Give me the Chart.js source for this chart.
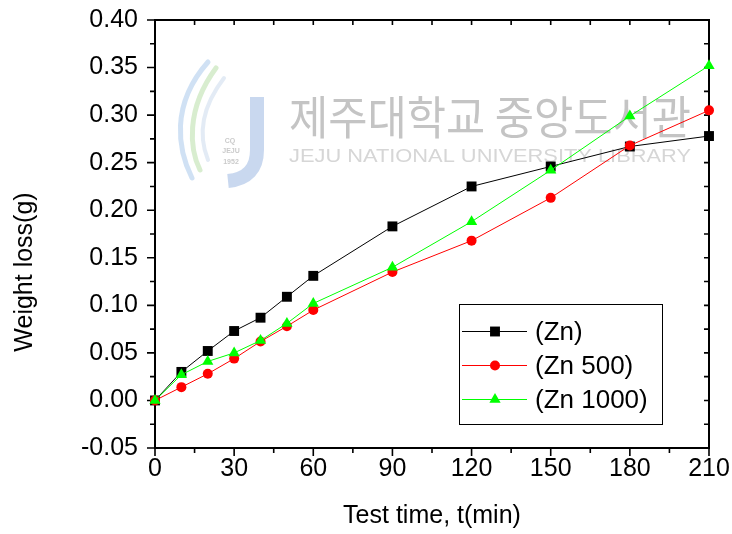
<!DOCTYPE html>
<html>
<head>
<meta charset="utf-8">
<script src="https://cdn.jsdelivr.net/npm/chart.js@4.4.1/dist/chart.umd.min.js"></script>
<style>
  html, body { margin: 0; padding: 0; background: #fff; }
  canvas { display: block; }
</style>
</head>
<body>
<canvas id="lossChart" width="732" height="534"></canvas>
<script>
// Test time (min)
const times = [0, 10, 20, 30, 40, 50, 60, 90, 120, 150, 180, 210];
// Weight loss (g)
const lossZn = [0, 0.030, 0.052, 0.073, 0.087, 0.109, 0.131, 0.183, 0.225, 0.246, 0.267, 0.278];
const lossZn500 = [0, 0.014, 0.028, 0.044, 0.062, 0.078, 0.095, 0.135, 0.168, 0.213, 0.268, 0.305];
const lossZn1000 = [0, 0.027, 0.041, 0.050, 0.063, 0.081, 0.102, 0.140, 0.188, 0.242, 0.299, 0.352];
const seriesNames = ['(Zn)', '(Zn 500)', '(Zn 1000)'];
const xTicks = [0, 30, 60, 90, 120, 150, 180, 210];
const yTicks = [-0.05, 0, 0.05, 0.10, 0.15, 0.20, 0.25, 0.30, 0.35, 0.40];
const yTitle = 'Weight loss(g)';

const FONT = '"Liberation Sans", Arial, sans-serif';
const FONT_SIZE = 25;

function toPoints(values) {
    return times.map((t, i) => ({ x: t, y: values[i] }));
}

function series(label, values, color, style, radius, order) {
    return {
        label: label,
        data: toPoints(values),
        borderColor: color,
        backgroundColor: color,
        borderWidth: 1,
        tension: 0,
        pointStyle: style,
        pointRadius: radius,
        pointHoverRadius: radius,
        pointBorderWidth: 0,
        clip: false,
        order: order
    };
}

// library watermark behind the plot
function drawWatermark(ctx) {
    ctx.save();
    ctx.filter = 'blur(0.6px)';
    ctx.lineCap = 'round';

    // swirl strokes of the logo
    const swirls = [
        ['rgba(170,200,235,0.55)', 5, [208, 62, 170, 105, 178, 150, 192, 178]],
        ['rgba(190,225,175,0.6)', 5, [216, 68, 185, 110, 190, 150, 200, 170]],
        ['rgba(200,215,235,0.5)', 4, [224, 78, 198, 112, 200, 140, 208, 160]]
    ];
    swirls.forEach(([color, w, p]) => {
        ctx.strokeStyle = color;
        ctx.lineWidth = w;
        ctx.beginPath();
        ctx.moveTo(p[0], p[1]);
        ctx.bezierCurveTo(p[2], p[3], p[4], p[5], p[6], p[7]);
        ctx.stroke();
    });

    // the "J"
    ctx.strokeStyle = 'rgba(165,190,228,0.6)';
    ctx.lineWidth = 14;
    ctx.lineCap = 'butt';
    ctx.beginPath();
    ctx.moveTo(257, 97);
    ctx.lineTo(257, 150);
    ctx.quadraticCurveTo(257, 178, 228, 181);
    ctx.stroke();

    ctx.fillStyle = 'rgba(150,150,150,0.5)';
    ctx.font = 'bold 7px ' + FONT;
    ctx.textAlign = 'center';
    ctx.textBaseline = 'middle';
    ctx.fillText('CQ', 230, 141);
    ctx.fillText('JEJU', 231, 151);
    ctx.fillText('1952', 231, 162);

    // Korean name, stretched to its span
    const kor = '제주대학교 중앙도서관';
    ctx.font = '46px "Noto Sans CJK KR"';
    ctx.textAlign = 'left';
    ctx.fillStyle = '#c4c4c4';
    let w = ctx.measureText(kor).width;
    ctx.save();
    ctx.translate(289, 117);
    ctx.scale(402 / w, 1);
    ctx.fillText(kor, 0, 0);
    ctx.restore();

    const eng = 'JEJU NATIONAL UNIVERSITY LIBRARY';
    ctx.font = '19px ' + FONT;
    ctx.fillStyle = '#d6d6d6';
    w = ctx.measureText(eng).width;
    ctx.save();
    ctx.translate(289, 157);
    ctx.scale(402 / w, 1);
    ctx.fillText(eng, 0, 0);
    ctx.restore();

    ctx.restore();
}

// boxed frame: ticks out on left/bottom, in on top/right
function drawFrame(chart) {
    const ctx = chart.ctx;
    const { left, right, top, bottom } = chart.chartArea;
    const xs = chart.scales.x;
    const ys = chart.scales.y;
    const majorLen = 8, minorLen = 5;

    ctx.save();
    ctx.strokeStyle = '#000';
    ctx.lineWidth = 2;
    ctx.strokeRect(left, top, right - left, bottom - top);

    ctx.lineWidth = 1.6;
    ctx.beginPath();
    xTicks.forEach((v, i) => {
        const px = xs.getPixelForValue(v);
        ctx.moveTo(px, bottom); ctx.lineTo(px, bottom + majorLen);
        ctx.moveTo(px, top); ctx.lineTo(px, top + minorLen);
        if (i < xTicks.length - 1) {
            const mx = xs.getPixelForValue((v + xTicks[i + 1]) / 2);
            ctx.moveTo(mx, bottom); ctx.lineTo(mx, bottom + minorLen);
            ctx.moveTo(mx, top); ctx.lineTo(mx, top + minorLen);
        }
    });
    yTicks.forEach((v, i) => {
        const py = ys.getPixelForValue(v);
        ctx.moveTo(left, py); ctx.lineTo(left - majorLen, py);
        ctx.moveTo(right, py); ctx.lineTo(right - minorLen, py);
        if (i < yTicks.length - 1) {
            const my = ys.getPixelForValue((v + yTicks[i + 1]) / 2);
            ctx.moveTo(left, my); ctx.lineTo(left - minorLen, my);
            ctx.moveTo(right, my); ctx.lineTo(right - minorLen, my);
        }
    });
    ctx.stroke();

    // y axis title, set a little below the plot centre
    ctx.save();
    ctx.translate(25, 272);
    ctx.rotate(-Math.PI / 2);
    ctx.fillStyle = '#000';
    ctx.font = FONT_SIZE + 'px ' + FONT;
    ctx.textAlign = 'center';
    ctx.textBaseline = 'middle';
    ctx.fillText(yTitle, 0, 0);
    ctx.restore();

    ctx.restore();
}

function drawMarker(ctx, style, r, x, y) {
    ctx.beginPath();
    if (style === 'rect') {
        const s = r * Math.SQRT1_2;
        ctx.rect(x - s, y - s, 2 * s, 2 * s);
    } else if (style === 'circle') {
        ctx.arc(x, y, r, 0, Math.PI * 2);
    } else if (style === 'triangle') {
        ctx.moveTo(x, y - r);
        ctx.lineTo(x + r * Math.sin(2 * Math.PI / 3), y - r * Math.cos(2 * Math.PI / 3));
        ctx.lineTo(x + r * Math.sin(4 * Math.PI / 3), y - r * Math.cos(4 * Math.PI / 3));
        ctx.closePath();
    }
    ctx.fill();
}

// legend box inside the plot
function drawLegend(chart) {
    const ctx = chart.ctx;
    const box = { x: 459.5, y: 304.5, w: 203, h: 120 };
    const rows = [331.5, 365.5, 399.5];

    ctx.save();
    ctx.fillStyle = '#fff';
    ctx.fillRect(box.x, box.y, box.w, box.h);
    ctx.strokeStyle = '#000';
    ctx.lineWidth = 1;
    ctx.strokeRect(box.x, box.y, box.w, box.h);

    chart.data.datasets.forEach((ds, i) => {
        const y = rows[i];
        ctx.strokeStyle = ds.borderColor;
        ctx.lineWidth = 1;
        ctx.beginPath();
        ctx.moveTo(462, y);
        ctx.lineTo(527, y);
        ctx.stroke();
        ctx.fillStyle = ds.backgroundColor;
        drawMarker(ctx, ds.pointStyle, ds.pointRadius, 495, y);

        ctx.fillStyle = '#000';
        ctx.font = '26px ' + FONT;
        ctx.textAlign = 'left';
        ctx.textBaseline = 'middle';
        ctx.fillText(ds.label, 535, y + 1);
    });
    ctx.restore();
}

const decorations = {
    id: 'decorations',
    beforeDatasetsDraw(chart) {
        drawWatermark(chart.ctx);
        drawFrame(chart);
    },
    afterDatasetsDraw(chart) {
        drawLegend(chart);
    }
};

const ctx = document.getElementById('lossChart').getContext('2d');

new Chart(ctx, {
    type: 'line',
    data: {
        datasets: [
            series(seriesNames[0], lossZn, '#000000', 'rect', 7, 3),
            series(seriesNames[1], lossZn500, '#ff0000', 'circle', 5, 2),
            series(seriesNames[2], lossZn1000, '#00ff00', 'triangle', 6.5, 1)
        ]
    },
    options: {
        responsive: false,
        animation: false,
        events: [],
        layout: { padding: { top: 20, right: 23, left: 0, bottom: 0 } },
        plugins: {
            legend: { display: false },
            tooltip: { enabled: false }
        },
        scales: {
            x: {
                type: 'linear',
                min: 0,
                max: 210,
                afterBuildTicks: s => { s.ticks = xTicks.map(v => ({ value: v })); },
                afterFit: s => {
                    s.height = 86;
                    s.paddingLeft = 0;
                    s.paddingRight = 0;
                },
                grid: { display: false, drawTicks: false },
                border: { display: false },
                ticks: {
                    color: '#000',
                    font: { family: FONT, size: FONT_SIZE },
                    padding: 6,
                    maxRotation: 0,
                    autoSkip: false,
                    callback: v => String(v)
                },
                title: {
                    display: true,
                    text: 'Test time, t(min)',
                    color: '#000',
                    font: { family: FONT, size: FONT_SIZE },
                    padding: { top: 0, bottom: 3 }
                }
            },
            y: {
                type: 'linear',
                min: -0.05,
                max: 0.40,
                afterBuildTicks: s => { s.ticks = yTicks.map(v => ({ value: v })); },
                afterFit: s => {
                    s.width = 155;
                    s.paddingTop = 0;
                    s.paddingBottom = 0;
                },
                grid: { display: false, drawTicks: false },
                border: { display: false },
                ticks: {
                    color: '#000',
                    font: { family: FONT, size: FONT_SIZE },
                    padding: 17,
                    autoSkip: false,
                    callback: v => v.toFixed(2)
                },
                title: { display: false }
            }
        }
    },
    plugins: [decorations]
});
</script>
</body>
</html>
